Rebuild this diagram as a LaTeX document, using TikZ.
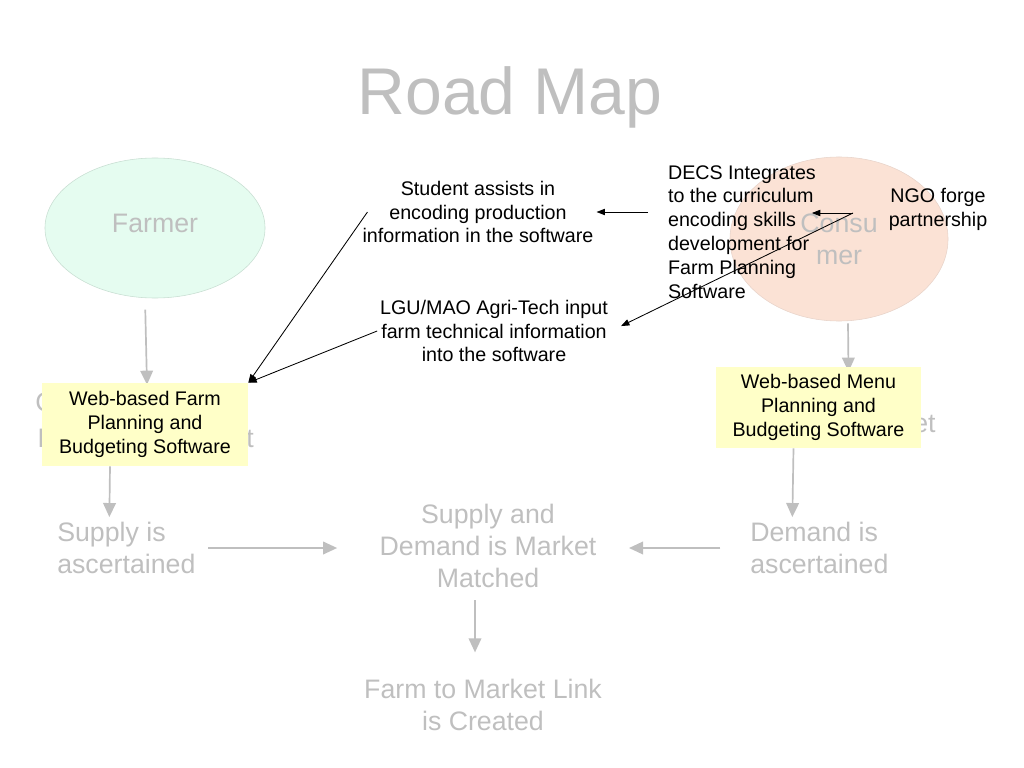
\documentclass[tikz,border=0pt]{standalone}
\usepackage{fontspec}
\setmainfont{Liberation Sans}
\usetikzlibrary{arrows.meta,positioning,shapes.geometric,calc,backgrounds}
\definecolor{fade}{RGB}{191,191,191}
\definecolor{mint}{RGB}{229,252,240}
\definecolor{mintline}{RGB}{200,222,210}
\definecolor{peach}{RGB}{251,226,213}
\definecolor{peachline}{RGB}{232,212,202}
\definecolor{softyellow}{RGB}{255,255,200}
\begin{document}
\begin{tikzpicture}[x=0.025cm,y=-0.025cm,
    faded/.style={text=fade,font=\fontsize{19}{22.5}\selectfont,align=center,inner sep=0pt},
    flow/.style={draw=fade,line width=1.2pt,-{Triangle[length=10pt,width=9pt]}},
    soft/.style={fill=softyellow,align=center,inner sep=0pt,font=\fontsize{14}{17}\selectfont},
    note/.style={align=center,inner sep=2pt,font=\fontsize{14}{17}\selectfont},
    link/.style={-{Triangle[length=6pt,width=4.5pt]},line width=0.6pt}]
  \useasboundingbox (0,0) rectangle (1024,768);
  \node[text=fade,font=\fontsize{47}{50}\selectfont] (title) at (510,97) {Road Map};
  \node[ellipse,draw=mintline,fill=mint,minimum width=5.5cm,minimum height=3.5cm] (farmer) at (155,228) {};
  \node[faded] (farmertext) at (155,223) {Farmer};
  \node[ellipse,draw=peachline,fill=peach,minimum width=5.45cm,minimum height=4.1cm,faded] (consumer) at (839,239) {Consu\\mer};
  \node[faded,anchor=base west] (farmhintA) at (35,411) {C};
  \node[faded,anchor=base west] (farmhintB) at (37,447) {I};
  \node[faded,anchor=base west] (farmhintC) at (246,447) {t};
  \node[faded,anchor=base west] (menuhint) at (913,432) {et};
  \node[faded,align=left,anchor=west] (supply) at (57,548) {Supply is\\ascertained};
  \node[faded] (matched) at (488,546) {Supply and\\Demand is Market\\Matched};
  \node[faded,align=left,anchor=west] (demand) at (750,548) {Demand is\\ascertained};
  \node[faded] (link) at (483,705) {Farm to Market Link\\is Created};
  \node[soft,minimum width=5.15cm,minimum height=2.075cm] (farmsw) at (145,424.5) {Web-based Farm\\Planning and\\Budgeting Software};
  \node[soft,minimum width=5.125cm,minimum height=2.025cm] (menusw) at (818.5,407.5) {Web-based Menu\\Planning and\\Budgeting Software};
  \node[note] (student) at (478,212) {Student assists in\\encoding production\\information in the software};
  \node[note,align=left,anchor=west] (decs) at (665,232) {DECS Integrates\\to the curriculum\\encoding skills\\development for\\Farm Planning\\Software};
  \node[note] (ngo) at (938,209) {NGO forge\\partnership};
  \node[note] (lgu) at (494,331) {LGU/MAO Agri-Tech input\\farm technical information\\into the software};
  \coordinate (fork) at (853,213);
  \draw[link] ($(student.west)+(8,0)$) -- (farmsw.north east);
  \draw[link] (lgu.west) -- (farmsw.north east);
  \draw[link,shorten <=12pt] (decs.west |- student.east) -- (student.east);
  \draw[link] (fork) -- ($(decs.east |- fork)+(-7,0)$);
  \draw[link,shorten >=8pt] (fork) -- (lgu.east);
  \begin{scope}[on background layer]
    \draw[flow,shorten <=8pt] (farmer.south -| farmsw.north) -- ($(farmsw.north)+(2,2)$);
    \draw[flow] ($(farmsw.south)+(-35,0)$) -- ($(supply.north)+(-17,-5)$);
    \draw[flow] ($(consumer.south)+(9,2)$) -- ($(menusw.north)+(30,5)$);
    \draw[flow] ($(menusw.south)+(-25,0)$) -- ($(demand.north)+(-27,-5)$);
    \draw[flow,shorten <=9pt,shorten >=30pt] (supply.east) -- (supply.east -| matched.west);
    \draw[flow,shorten <=21pt,shorten >=23pt] (demand.west) -- (demand.west -| matched.east);
    \draw[flow,shorten <=9pt,shorten >=19pt] ($(matched.south)+(-13,0)$) -- ($(link.north)+(-8,0)$);
  \end{scope}
\end{tikzpicture}
\end{document}
